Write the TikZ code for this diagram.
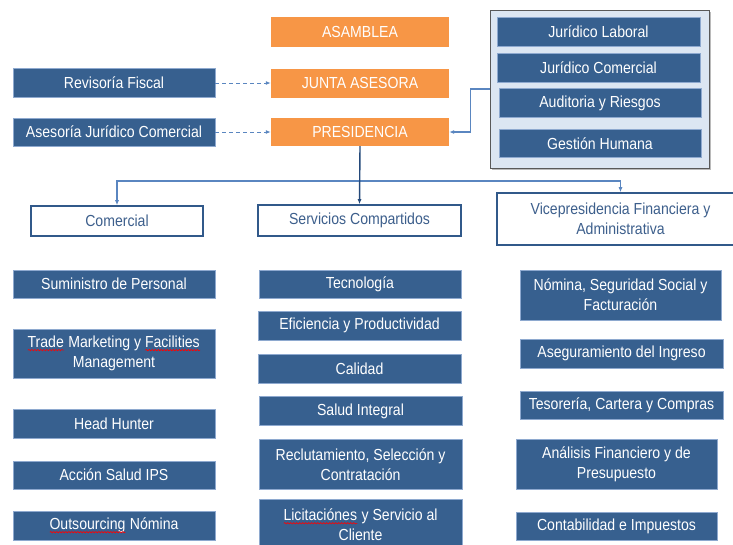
\documentclass[tikz,border=0pt]{standalone}
\usepackage{fontspec}
\setmainfont{Liberation Sans}[FakeStretch=0.88]
\usetikzlibrary{arrows.meta,shadows,decorations.pathmorphing}
\definecolor{dblue}{HTML}{37608F}
\definecolor{dedge}{HTML}{8EA9CF}
\definecolor{orng}{HTML}{F79646}
\definecolor{lbg}{HTML}{DCE6F2}
\definecolor{wedge}{HTML}{31598A}
\definecolor{wtext}{HTML}{3D5F8C}
\definecolor{lline}{HTML}{5A86C0}
\definecolor{nline}{HTML}{24497A}
\newlength\splw
\newcommand\spl[1]{\settowidth\splw{#1}\rlap{#1}\tikz[baseline=0pt,x=1pt,y=1pt]{\draw[red,line width=0.6pt,decorate,decoration={snake,amplitude=0.7pt,segment length=3pt}] (0pt,-2.5pt) -- (\splw,-2.5pt);}}
\begin{document}
\begin{tikzpicture}[x=1pt,y=-1pt,
  base/.style={inner sep=0pt, align=center, font=\fontsize{16}{20}\selectfont},
  dbox/.style={base, fill=dblue, draw=dedge, line width=0.8pt, text=white},
  obox/.style={base, fill=orng, text=white},
  wbox/.style={base, fill=white, draw=wedge, line width=1.6pt, text=wtext},
  grpbox/.style={fill=lbg, draw=black!65, line width=0.9pt, inner sep=0pt,
     drop shadow={shadow xshift=1.5pt, shadow yshift=-1.5pt, opacity=0.45, fill=black!60}},
  dasharrow/.style={draw=lline, dash pattern=on 4pt off 3pt, line width=1pt, -{Latex[length=5pt,width=4pt]}},
  lightarrow/.style={draw=lline, line width=1.1pt, -{Latex[length=5pt,width=4pt]}},
  darkarrow/.style={draw=nline, line width=1.4pt, -{Latex[length=5pt,width=4pt]}}
]
\useasboundingbox (0,0) rectangle (733,544);
% top orange chain
\node[obox, minimum width=178pt, minimum height=30pt] (asam) at (360,32) {ASAMBLEA};
\node[obox, minimum width=178pt, minimum height=29pt] (junta) at (360,83) {JUNTA ASESORA};
\node[obox, minimum width=178pt, minimum height=28pt] (pres) at (360,132) {PRESIDENCIA};
% left advisors
\node[dbox, minimum width=202pt, minimum height=29pt] (rev) at (114,83) {Revisoría Fiscal};
\node[dbox, minimum width=202pt, minimum height=28pt] (ase) at (114,132) {Asesoría Jurídico Comercial};
% right group
\node[grpbox, minimum width=219pt, minimum height=158pt] (grp) at (599.5,89) {};
\node[dbox, minimum width=203pt, minimum height=29pt] (jl) at (598.5,32) {Jurídico Laboral};
\node[dbox, minimum width=203pt, minimum height=29pt] (jc) at (598.5,68) {Jurídico Comercial};
\node[dbox, minimum width=202pt, minimum height=29pt] (aud) at (600,103) {Auditoria y Riesgos};
\node[dbox, minimum width=202pt, minimum height=28pt] (gh) at (600,143.3) {Gestión Humana};
% second level
\node[wbox, minimum width=172pt, minimum height=30pt] (com) at (117,221) {Comercial};
\node[wbox, minimum width=203pt, minimum height=31pt] (ser) at (359.5,220.5) {Servicios Compartidos};
\node[wbox, minimum width=247pt, minimum height=52pt] (vp) at (620.5,219) {Vicepresidencia Financiera y\\Administrativa};
% column 1
\node[dbox, minimum width=202pt, minimum height=28pt] (c1) at (114,284) {Suministro de Personal};
\node[dbox, minimum width=202pt, minimum height=49pt] (c2) at (114,353.5) {\spl{Trade} Marketing y \spl{Facilities}\\Management};
\node[dbox, minimum width=202pt, minimum height=29pt] (c3) at (114,423.7) {Head Hunter};
\node[dbox, minimum width=202pt, minimum height=28pt] (c4) at (114,475) {Acción Salud IPS};
\node[dbox, minimum width=202pt, minimum height=29pt] (c5) at (114,525.5) {\spl{Outsourcing} Nómina};
% column 2
\node[dbox, minimum width=202pt, minimum height=28pt] (s1) at (360,284) {Tecnología};
\node[dbox, minimum width=203pt, minimum height=29pt] (s2) at (359.5,325.5) {Eficiencia y Productividad};
\node[dbox, minimum width=203pt, minimum height=29pt] (s3) at (359.5,368.5) {Calidad};
\node[dbox, minimum width=203pt, minimum height=29pt] (s4) at (360.5,411.3) {Salud Integral};
\node[dbox, minimum width=203pt, minimum height=50pt] (s5) at (360.5,464.3) {Reclutamiento, Selección y\\Contratación};
\node[dbox, minimum width=203pt, minimum height=52pt] (s6) at (360.5,525) {\spl{Licitaciónes} y Servicio al\\Cliente};
% column 3
\node[dbox, minimum width=201pt, minimum height=50pt] (v1) at (620.5,295) {Nómina, Seguridad Social y\\Facturación};
\node[dbox, minimum width=203pt, minimum height=29pt] (v2) at (621.5,353.8) {Aseguramiento del Ingreso};
\node[dbox, minimum width=203pt, minimum height=28pt] (v3) at (621.5,405) {Tesorería, Cartera y Compras};
\node[dbox, minimum width=201pt, minimum height=50pt] (v4) at (616.5,464.3) {Análisis Financiero y de\\Presupuesto};
\node[dbox, minimum width=201pt, minimum height=28pt] (v5) at (616.5,526) {Contabilidad e Impuestos};
% connectors
\draw[dasharrow] (rev.east) -- (junta.west);
\draw[dasharrow] (ase.east) -- (pres.west);
\draw[lightarrow] (grp.west) -- ++(-19,0) |- (pres.east);
\coordinate (bus) at (360,181);
\draw[lightarrow] (bus) -| (com.north);
\draw[lightarrow] (bus) -| (vp.north);
\draw[darkarrow] (pres.south) -- (ser.north);
\end{tikzpicture}
\end{document}
